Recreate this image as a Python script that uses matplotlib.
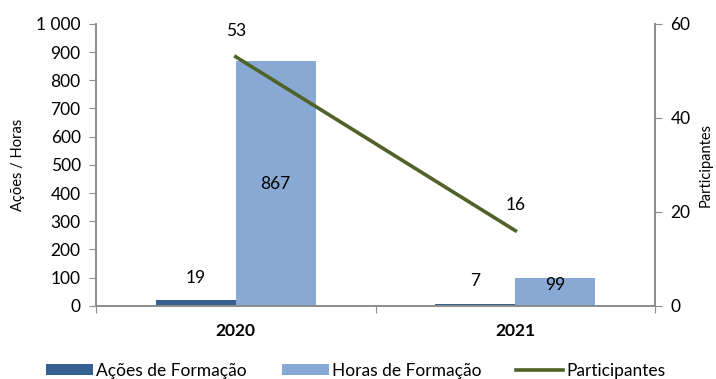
import matplotlib
matplotlib.use("Agg")
import matplotlib.pyplot as plt
import numpy as np

plt.rcParams['font.family'] = ['Lato', 'DejaVu Sans']

years = ["2020", "2021"]
acoes = [19, 7]
horas = [867, 99]
participantes = [53, 16]

c_acoes = "#376092"
c_horas = "#88a9d3"
c_part = "#4f6228"
c_axis = "#8c8c8c"
fs = 12.5

fig = plt.figure(figsize=(7.16, 3.79), dpi=100)
ax = fig.add_axes([0.134, 0.193, 0.781, 0.744])
ax2 = ax.twinx()

x = np.arange(len(years)) + 0.5
w = 0.286
b1 = ax.bar(x - w / 2, acoes, w, color=c_acoes, label="Ações de Formação", zorder=2)
b2 = ax.bar(x + w / 2, horas, w, color=c_horas, label="Horas de Formação", zorder=2)
ln, = ax2.plot(x, participantes, color=c_part, lw=2.6, label="Participantes", zorder=3)

ax.set_xlim(0, len(years))
ax.set_ylim(0, 1000)
ax2.set_ylim(0, 60)
ax.set_yticks(np.arange(0, 1001, 100))
ax.set_yticklabels([f"{v:,}".replace(",", " ") for v in range(0, 1001, 100)])
ax2.set_yticks([0, 20, 40, 60])

ax.set_xticks(np.arange(0, len(years) + 1))
ax.set_xticklabels([])
ax.set_xticks(x, minor=True)
ax.set_xticklabels(years, minor=True, fontweight="bold", fontsize=fs)
ax.tick_params(axis="x", which="minor", length=0, pad=12)
ax.tick_params(axis="x", which="major", length=5, color=c_axis)
ax.tick_params(axis="y", length=5, color=c_axis, labelsize=fs, pad=6)
ax2.tick_params(axis="y", length=5, color=c_axis, labelsize=fs, pad=6)

for a in (ax, ax2):
    a.spines["top"].set_visible(False)
    for s in ("left", "right", "bottom"):
        a.spines[s].set_color(c_axis)
        a.spines[s].set_linewidth(1.2)
ax.patch.set_visible(False)
ax2.patch.set_visible(False)

ax.set_ylabel("Ações / Horas", fontsize=10.5, labelpad=8)
ax2.set_ylabel("Participantes", fontsize=10.5, labelpad=6)

# value labels
for xi, v in zip(x - w / 2, acoes):
    ax.text(xi, v + 80, str(v), ha="center", va="center", fontsize=fs)
ax.text(x[0] + w / 2, horas[0] / 2, str(horas[0]), ha="center", va="center", fontsize=fs)
ax.text(x[1] + w / 2, horas[1] - 25, str(horas[1]), ha="center", va="center", fontsize=fs)
for xi, v in zip(x, participantes):
    ax2.text(xi, v + 5.5, str(v), ha="center", va="center", fontsize=fs)

fig.legend(handles=[b1, b2, ln], labels=["Ações de Formação", "Horas de Formação", "Participantes"],
           loc="lower center", bbox_to_anchor=(0.497, -0.04), ncol=3, frameon=False,
           fontsize=fs, handlelength=2.7, handleheight=0.6, handletextpad=0.2,
           columnspacing=2.0)

fig.savefig("out.png", dpi=100)
